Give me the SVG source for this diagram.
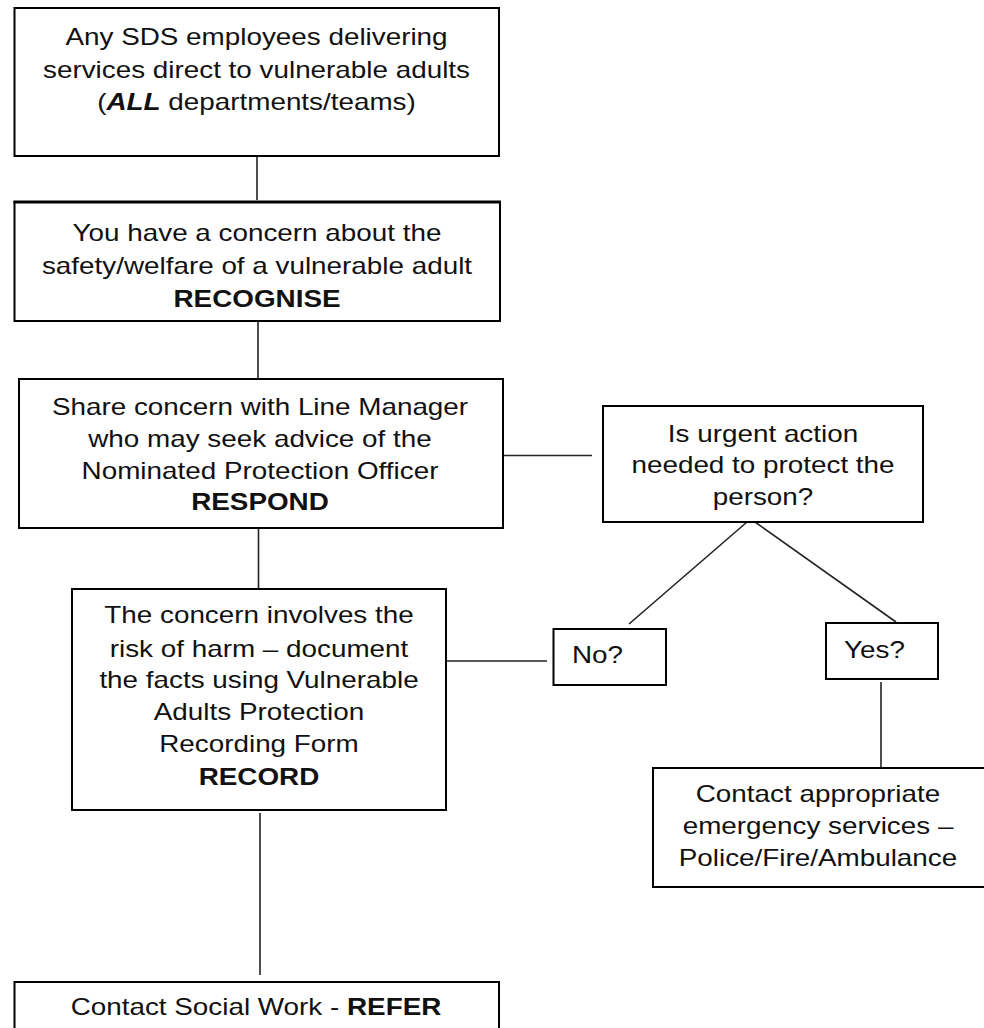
<svg xmlns="http://www.w3.org/2000/svg" width="984" height="1028" viewBox="0 0 984 1028">
<style>
.box{fill:#fff;stroke:#000;stroke-width:2}
.con line{stroke:#222;stroke-width:1.6}
text{font-family:"Liberation Sans",Arial,sans-serif;font-size:24px;fill:#111}
.c{text-anchor:middle}
.b{font-weight:bold}
</style>
<rect width="984" height="1028" fill="#fff"/>
<g id="connectors" class="con">
<line x1="257" y1="157" x2="257" y2="200"/>
<line x1="258" y1="321" x2="258" y2="379"/>
<line x1="258.5" y1="528" x2="258.5" y2="589"/>
<line x1="503" y1="455.5" x2="592" y2="455.5"/>
<line x1="747" y1="522" x2="629" y2="624"/>
<line x1="755" y1="522" x2="896" y2="622"/>
<line x1="446" y1="661" x2="547" y2="661"/>
<line x1="881" y1="682" x2="881" y2="768"/>
<line x1="260" y1="813" x2="260" y2="975"/>
</g>
<g id="n1">
<rect class="box" x="14.5" y="8" width="484.5" height="148"/>
<g transform="translate(256.5,0) scale(1.16,1)">
<text class="c" x="0" y="45.5">Any SDS employees delivering</text>
<text class="c" x="0" y="77.7">services direct to vulnerable adults</text>
<text class="c" x="0" y="110.5">(<tspan class="b" font-style="italic">ALL</tspan> departments/teams)</text>
</g>
</g>
<g id="n2">
<rect class="box" x="14.5" y="202" width="485.5" height="119"/>
<line x1="13.5" y1="202" x2="501" y2="202" stroke="#000" stroke-width="3"/>
<g transform="translate(257,0) scale(1.16,1)">
<text class="c" x="0" y="241.5">You have a concern about the</text>
<text class="c" x="0" y="274.3">safety/welfare of a vulnerable adult</text>
<text class="c b" x="0" y="306.7">RECOGNISE</text>
</g>
</g>
<g id="n3">
<rect class="box" x="19" y="379" width="484" height="149"/>
<g transform="translate(260,0) scale(1.16,1)">
<text class="c" x="0" y="415">Share concern with Line Manager</text>
<text class="c" x="0" y="447">who may seek advice of the</text>
<text class="c" x="0" y="479">Nominated Protection Officer</text>
<text class="c b" x="0" y="510.5">RESPOND</text>
</g>
</g>
<g id="n4">
<rect class="box" x="603" y="406" width="320" height="116"/>
<g transform="translate(763,0) scale(1.16,1)">
<text class="c" x="0" y="441.7">Is urgent action</text>
<text class="c" x="0" y="473.3">needed to protect the</text>
<text class="c" x="0" y="505">person?</text>
</g>
</g>
<g id="n5">
<rect class="box" x="72" y="589" width="374" height="221"/>
<g transform="translate(259,0) scale(1.16,1)">
<text class="c" x="0" y="623">The concern involves the</text>
<text class="c" x="0" y="657">risk of harm – document</text>
<text class="c" x="0" y="688">the facts using Vulnerable</text>
<text class="c" x="0" y="720">Adults Protection</text>
<text class="c" x="0" y="752">Recording Form</text>
<text class="c b" x="0" y="785">RECORD</text>
</g>
</g>
<g id="n6">
<rect class="box" x="553.5" y="629" width="112.5" height="56"/>
<g transform="translate(572,0) scale(1.16,1)">
<text x="0" y="663">No?</text>
</g>
</g>
<g id="n7">
<rect class="box" x="826" y="623" width="112" height="56"/>
<g transform="translate(844,0) scale(1.16,1)">
<text x="0" y="658">Yes?</text>
</g>
</g>
<g id="n8">
<rect class="box" x="653" y="768" width="334" height="119"/>
<g transform="translate(818,0) scale(1.16,1)">
<text class="c" x="0" y="802">Contact appropriate</text>
<text class="c" x="0" y="834">emergency services –</text>
<text class="c" x="0" y="866">Police/Fire/Ambulance</text>
</g>
</g>
<g id="n9">
<rect class="box" x="14.5" y="982" width="484.5" height="60"/>
<g transform="translate(256,0) scale(1.16,1)">
<text class="c" x="0" y="1015">Contact Social Work - <tspan class="b">REFER</tspan></text>
</g>
</g>
</svg>
